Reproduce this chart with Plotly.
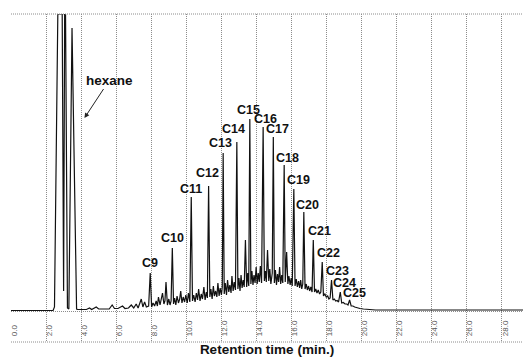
import plotly.graph_objects as go

# ---------------- data ----------------
# labelled n-alkane peaks: retention time (min) and detector response (a.u.)
alkane_labels = ["C9", "C10", "C11", "C12", "C13", "C14", "C15", "C16", "C17",
                 "C18", "C19", "C20", "C21", "C22", "C23", "C24", "C25"]
alkane_time = [7.94, 9.20, 10.28, 11.27, 12.10, 12.88, 13.62, 14.38, 14.96,
               15.58, 16.13, 16.70, 17.24, 17.75, 18.28, 18.78, 19.31]
alkane_height = [38, 63, 114, 125, 158, 169, 192, 184, 174,
                 146, 122, 99, 71, 49, 31, 19, 11]

# solvent (hexane) region, detector saturated at 297
solvent_time = [0.0, 2.40, 2.48, 2.67, 2.92, 3.00, 3.06, 3.11, 3.22, 3.30, 3.48, 3.74]
solvent_response = [0.5, 0.5, 4, 297, 297, 20, 297, 297, 3, 2, 283, 2]

# early small peaks before C9
early_time = [3.80, 4.00, 4.30, 4.48, 4.60, 4.86, 5.00, 5.30, 5.60, 5.77, 5.90,
              6.10, 6.36, 6.50, 6.70, 6.86, 7.00, 7.14, 7.25, 7.43, 7.52, 7.62,
              7.72, 7.85]
early_response = [1.5, 1.5, 1.5, 3, 1.5, 4, 2, 2, 2, 6, 2.5,
                  2.5, 5, 2.5, 3, 6, 3, 7, 3, 12, 4, 9,
                  4, 5]

# unresolved complex mixture hump with minor peaks (between labelled alkanes)
hump_time = [8.02, 8.10, 8.19, 8.28, 8.35, 8.41, 8.50, 8.57, 8.64, 8.72, 8.78, 8.84,
             8.92, 9.00, 9.07, 9.13,
             9.27, 9.33, 9.40, 9.47, 9.55, 9.62, 9.68, 9.75, 9.82, 9.90, 9.97,
             10.05, 10.12, 10.20,
             10.35, 10.42, 10.50, 10.57, 10.64, 10.70, 10.78, 10.85, 10.92, 11.00,
             11.07, 11.14, 11.20,
             11.34, 11.40, 11.47, 11.54, 11.60, 11.67, 11.74, 11.80, 11.87, 11.93,
             12.00, 12.05,
             12.16, 12.22, 12.29, 12.35, 12.42, 12.48, 12.55, 12.60, 12.67, 12.73, 12.80,
             12.94, 13.00, 13.06, 13.12, 13.18, 13.24, 13.30, 13.37, 13.44, 13.50, 13.56,
             13.68, 13.74, 13.80, 13.86, 13.92, 13.98, 14.04, 14.10, 14.16, 14.22, 14.29,
             14.45, 14.51, 14.56, 14.63, 14.70, 14.76, 14.82, 14.90,
             15.02, 15.08, 15.14, 15.20, 15.26, 15.32, 15.38, 15.44, 15.50,
             15.64, 15.72, 15.79, 15.85, 15.92, 15.98, 16.04,
             16.20, 16.27, 16.33, 16.40, 16.46, 16.52, 16.58, 16.64,
             16.77, 16.84, 16.90, 16.97, 17.03, 17.10, 17.17,
             17.31, 17.38, 17.45, 17.52, 17.60, 17.67,
             17.82, 17.90, 17.98, 18.06, 18.13, 18.20,
             18.36, 18.44, 18.52, 18.60, 18.68,
             18.86, 18.95, 19.05, 19.15, 19.22,
             19.40, 19.50, 19.60, 19.75, 19.90, 20.10, 20.40, 20.80, 21.50, 29.20]
hump_response = [4, 8, 5, 10, 5, 14, 6, 11, 18, 7, 10, 29,
                 6, 12, 6, 10,
                 7, 13, 6, 15, 8, 12, 20, 8, 14, 9, 16,
                 8, 18, 9,
                 10, 16, 9, 18, 11, 22, 10, 17, 12, 24,
                 11, 19, 13,
                 14, 22, 12, 25, 15, 20, 14, 28, 15, 23,
                 16, 24,
                 17, 28, 16, 31, 19, 26, 18, 35, 20, 29, 21,
                 22, 33, 20, 36, 23, 31, 24, 71, 24, 38, 25,
                 27, 40, 26, 36, 28, 44, 27, 38, 29, 45, 28,
                 30, 40, 29, 61, 30, 42, 27, 38,
                 28, 41, 26, 37, 29, 44, 27, 36, 28,
                 29, 59, 27, 35, 26, 33, 25,
                 25, 32, 24, 30, 23, 31, 22, 27,
                 22, 27, 21, 25, 20, 24, 19,
                 19, 22, 18, 21, 17, 19,
                 15, 17, 14, 15, 12, 13,
                 11, 12, 10, 10.5, 9,
                 8, 8.5, 7, 7, 6,
                 5, 5, 4, 3, 2.5, 2, 1.5, 1, 1, 1]

tick_values = [0, 2, 4, 6, 8, 10, 12, 14, 16, 18, 20, 22, 24, 26, 28]
tick_labels = ["0.0", "2.0", "4.0", "6.0", "8.0", "10.0", "12.0", "14.0", "16.0",
               "18.0", "20.0", "22.0", "24.0", "26.0", "28.0"]

# ---------------- styling constants ----------------
label_dx = [0, 0, 0, -1.5, -3, -3, -1, 2.5, 4, 3, 5, 4, 6, 6, 5.5, 4, 5]
label_dy = [1, 1, -1, 4, 1, 4, 0.5, -1.3, -1, -1.5, 0.5, -1.7, 0, 0, 0, 0.3, -2]
GRID = "#8c8c8c"
DOT = "1px,1px"
FONT = "Liberation Sans, Arial, sans-serif"

# ---------------- build trace ----------------
pts = (list(zip(solvent_time, solvent_response)) + list(zip(early_time, early_response))
       + list(zip(hump_time, hump_response)) + list(zip(alkane_time, alkane_height)))
pts.sort(key=lambda p: p[0])
xs = [p[0] for p in pts]
ys = [p[1] for p in pts]

fig = go.Figure()
fig.add_trace(go.Scatter(x=xs, y=ys, mode="lines",
                         line=dict(color="#111111", width=1.2),
                         hoverinfo="skip", showlegend=False))

annotations = []
for lab, t, h, dx, dy in zip(alkane_labels, alkane_time, alkane_height, label_dx, label_dy):
    annotations.append(dict(x=t, y=h, text=f"<b>{lab}</b>", showarrow=False,
                            xanchor="center", yanchor="bottom", xshift=dx, yshift=dy,
                            font=dict(family=FONT, size=12.5, color="#111")))
annotations.append(dict(x=4.19, y=193, xref="x", yref="y", text="<b>hexane</b>",
                        showarrow=True, ax=25, ay=-38, arrowhead=2, arrowsize=1,
                        arrowwidth=1, arrowcolor="#222",
                        font=dict(family=FONT, size=13.5, color="#111")))

shapes = [
    dict(type="line", xref="paper", yref="paper", x0=0, x1=1, y0=1, y1=1,
         line=dict(color=GRID, width=1, dash=DOT)),
    dict(type="line", xref="paper", yref="paper", x0=0, x1=1, y0=0, y1=0,
         line=dict(color=GRID, width=1, dash=DOT)),
    dict(type="line", xref="paper", yref="y", x0=0, x1=1, y0=-0.5, y1=-0.5,
         line=dict(color=GRID, width=1, dash=DOT), layer="below"),
]

fig.update_layout(
    width=526, height=358,
    margin=dict(l=11, r=3, t=14, b=16, autoexpand=False),
    paper_bgcolor="white", plot_bgcolor="white",
    annotations=annotations, shapes=shapes,
    xaxis=dict(range=[0, 29.2], tickvals=tick_values, ticktext=tick_labels,
               tickangle=-90, ticklabelposition="inside", ticks="",
               ticklabeloverflow="allow", ticklabelshift=3,
               tickfont=dict(family=FONT, size=8, color="#555"),
               showgrid=True, gridcolor=GRID, gridwidth=1, griddash=DOT,
               zeroline=False, showline=False, automargin=False,
               title=dict(text="<b>Retention time (min.)</b>", standoff=9,
                          font=dict(family=FONT, size=13.5, color="#111"))),
    yaxis=dict(range=[-31, 297], visible=False, fixedrange=True),
)

fig.write_html("out.html", config={"displayModeBar": False, "staticPlot": True},
               post_script="document.body.style.margin='0';document.body.style.padding='0';")
